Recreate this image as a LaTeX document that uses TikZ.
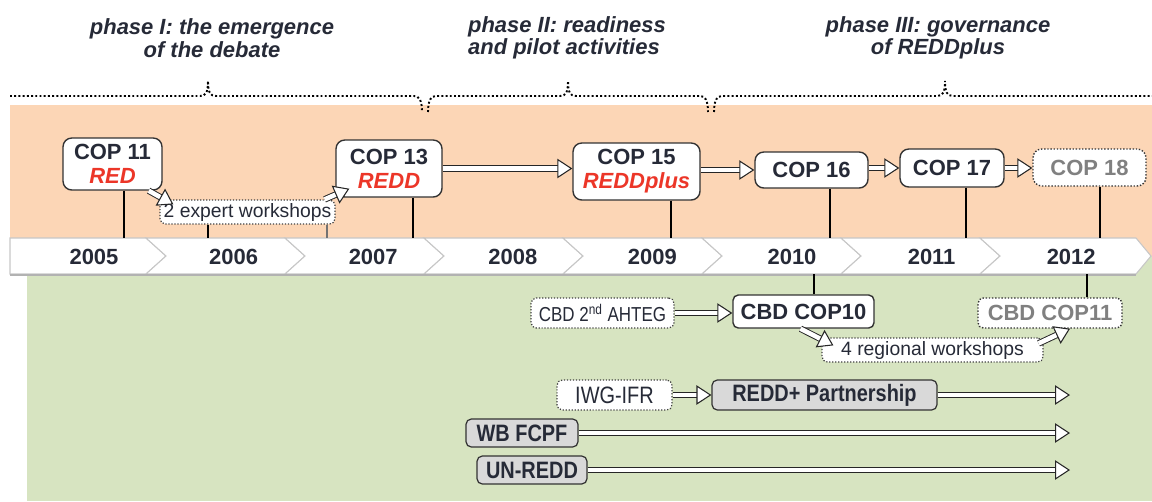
\documentclass[tikz,border=0pt]{standalone}
\usepackage{fontspec}
\setmainfont{Liberation Sans}
\newfontfamily\narrowsf[FakeStretch=0.84]{Liberation Sans}
\usetikzlibrary{positioning}
\usetikzlibrary{arrows.meta}
\definecolor{peach}{RGB}{252,214,182}
\definecolor{sage}{RGB}{215,228,193}
\definecolor{inkblue}{RGB}{38,42,55}
\definecolor{redtxt}{RGB}{236,54,40}
\definecolor{boxgray}{RGB}{217,217,217}
\newcommand{\redword}[1]{{\color{redtxt}\itshape #1}}

\begin{document}
\begin{tikzpicture}[%
x=0.02cm, y=-0.02cm,
every node/.style={text=inkblue},
phasetext/.style={font=\bfseries\itshape\fontsize{12.5}{12.8}\selectfont, align=center},
yeartext/.style={font=\bfseries\fontsize{12.5}{14}\selectfont},
chevron/.style={fill=white, draw=black!22, line width=0.6pt},
phaseline/.style={line width=1.1pt, dash pattern=on 1.1pt off 1.3pt},
copbox/.style={draw=black!80, line width=0.8pt, fill=white, rounded corners=5pt,
  align=center, inner sep=0pt, font=\bfseries\fontsize{12.5}{13.7}\selectfont},
futurebox/.style={copbox, densely dotted, text=black!50},
wsbox/.style={draw=black!75, densely dotted, line width=0.7pt, fill=white,
  rounded corners=3pt, inner sep=0pt, font=\fontsize{11}{13}\selectfont},
orgbox/.style={draw=black!80, line width=0.7pt, fill=boxgray, rounded corners=3pt,
  inner sep=0pt, font=\narrowsf\bfseries\fontsize{13.5}{15}\selectfont},
stem/.style={line width=1.3pt},
thinstem/.style={line width=0.6pt},
fat/.style={draw=black!85, line width=0.55pt, double=white, double distance=2.6pt,
  -{Triangle[open, length=8.5pt, width=11pt, line width=0.6pt, fill=white]}}]
\useasboundingbox (0,0) rectangle (1152,501);
\fill[peach] (10,105) rectangle (1152,256);
\fill[sage] (27,256) rectangle (1152,501);
\coordinate (tltop) at (0,238);
\coordinate (tlbot) at (0,274);
\draw[chevron] (10,238) -- (146,238) -- (166,256) -- (146,274) -- (10,274) -- cycle;
\foreach \i in {1,...,6}
  \draw[chevron] (7+139*\i,238) -- (146+139*\i,238) -- (166+139*\i,256)
    -- (146+139*\i,274) -- (7+139*\i,274) -- (27+139*\i,256) -- cycle;
\draw[chevron] (980,238) -- (1136,238) -- (1151,256) -- (1136,274) -- (980,274) -- (1000,256) -- cycle;
\draw[black!30, line width=1pt] (10,275) -- (1136,275);
\foreach \yr [count=\i from 0] in {2005,...,2012}
  \node[yeartext] (y\yr) at (94+139.6*\i,257) {\yr};
\draw[phaseline] (10,96) -- (200,96) .. controls (206,96) and (208,92) .. (208,81)
  .. controls (208,92) and (210,96) .. (216,96) -- (414,96)
  .. controls (419,96) and (422,100) .. (422,112);
\draw[phaseline] (428,112) .. controls (428,100) and (431,96) .. (436,96) -- (560,96)
  .. controls (566,96) and (568,92) .. (568,81) .. controls (568,92) and (570,96) .. (576,96)
  -- (700,96) .. controls (705,96) and (708,100) .. (708,112);
\draw[phaseline] (714,112) .. controls (714,100) and (717,96) .. (722,96) -- (937,96)
  .. controls (943,96) and (945,92) .. (945,81) .. controls (945,92) and (947,96) .. (953,96)
  -- (1152,96);
\node[phasetext] (ph1) at (212,38) {phase I: the emergence\\of the debate};
\node[phasetext, align=left] (ph2) at (567,38) {phase II: readiness\\and pilot activities};
\node[phasetext] (ph3) at (938,38) {phase III: governance\\of REDDplus};
\node[copbox, minimum width=1.98cm, minimum height=1.04cm] (cop11) at (112.5,164) {COP 11\\\redword{RED}};
\node[copbox, minimum width=2.12cm, minimum height=1.14cm] (cop13) at (389,168.5) {COP 13\\\redword{REDD}};
\node[copbox, minimum width=2.54cm, minimum height=1.14cm] (cop15) at (636.5,171.5) {COP 15\\\redword{REDDplus}};
\node[copbox, minimum width=2.26cm, minimum height=0.72cm] (cop16) at (811.5,170) {COP 16};
\node[copbox, minimum width=2.08cm, minimum height=0.76cm] (cop17) at (952,168) {COP 17};
\node[futurebox, minimum width=2.26cm, minimum height=0.74cm] (cop18) at (1089.5,167.5) {COP 18};
\node[wsbox, minimum width=3.5cm, minimum height=0.48cm] (expws) at (247.5,212) {2 expert workshops};
\node[wsbox, minimum width=2.86cm, minimum height=0.6cm, font=\narrowsf\fontsize{11.5}{13}\selectfont] (ahteg) at (602.5,313) {CBD 2\textsuperscript{nd} AHTEG};
\node[copbox, rounded corners=3pt, minimum width=2.82cm, minimum height=0.66cm] (cbd10) at (803.5,311.5) {CBD COP10};
\node[futurebox, rounded corners=3pt, minimum width=2.88cm, minimum height=0.6cm] (cbd11) at (1050,313) {CBD COP11};
\node[wsbox, minimum width=4.42cm, minimum height=0.48cm] (regws) at (932.5,350) {4 regional workshops};
\node[wsbox, minimum width=2.3cm, minimum height=0.6cm, font=\narrowsf\fontsize{13.5}{15}\selectfont] (iwg) at (614.5,395) {IWG-IFR};
\node[orgbox, minimum width=4.5cm, minimum height=0.6cm] (partner) at (824.5,395) {REDD+ Partnership};
\node[orgbox, minimum width=2.24cm, minimum height=0.56cm] (fcpf) at (522,433) {WB FCPF};
\node[orgbox, minimum width=2.2cm, minimum height=0.56cm] (unredd) at (532,470) {UN-REDD};
\coordinate (end1) at (1070,395);
\coordinate (end2) at (1070,433);
\coordinate (end3) at (1070,470);
\draw[thinstem] ([xshift=0.23cm]cop11.south) -- ([xshift=0.23cm]cop11.south |- tltop);
\draw[stem] ([xshift=0.48cm]cop13.south) -- ([xshift=0.48cm]cop13.south |- tltop);
\draw[stem] ([xshift=0.69cm]cop15.south) -- ([xshift=0.69cm]cop15.south |- tltop);
\draw[stem] ([xshift=0.37cm]cop16.south) -- ([xshift=0.37cm]cop16.south |- tltop);
\draw[stem] ([xshift=0.28cm]cop17.south) -- ([xshift=0.28cm]cop17.south |- tltop);
\draw[stem] ([xshift=0.21cm]cop18.south) -- ([xshift=0.21cm]cop18.south |- tltop);
\draw[stem] ([xshift=-0.79cm]expws.south) -- ([xshift=-0.79cm]expws.south |- tltop);
\draw[thinstem, black!55] ([xshift=1.59cm]expws.south) -- ([xshift=1.59cm]expws.south |- tltop);
\draw[stem] ([xshift=0.21cm]cbd10.north) -- ([xshift=0.21cm]cbd10.north |- tlbot);
\draw[stem] ([xshift=0.74cm]cbd11.north) -- ([xshift=0.74cm]cbd11.north |- tlbot);
\draw[fat] ([xshift=-0.28cm]cop11.south east) -- ([xshift=0.28cm, yshift=-0.1cm]expws.north west);
\draw[fat] ([xshift=-0.22cm]expws.north east) -- ([xshift=0.28cm, yshift=0.18cm]cop13.south west);
\draw[fat] (cop13.east) -- (cop13.east -| cop15.west);
\draw[fat] (cop16.west -| cop15.east) -- (cop16.west);
\draw[fat] (cop17.west -| cop16.east) -- (cop17.west);
\draw[fat] (cop17.east) -- (cop17.east -| cop18.west);
\draw[fat] (ahteg.east) -- (ahteg.east -| cbd10.west);
\draw[fat] ([xshift=-0.06cm]cbd10.south) -- ([xshift=0.24cm, yshift=-0.16cm]regws.north west);
\draw[fat] ([xshift=-0.1cm, yshift=-0.12cm]regws.north east) -- ([xshift=0.4cm]cbd11.south);
\draw[fat] (iwg.east) -- (partner.west);
\draw[fat] (partner.east) -- (end1);
\draw[fat] (fcpf.east) -- (end2);
\draw[fat] (unredd.east) -- (end3);
\end{tikzpicture}
\end{document}
